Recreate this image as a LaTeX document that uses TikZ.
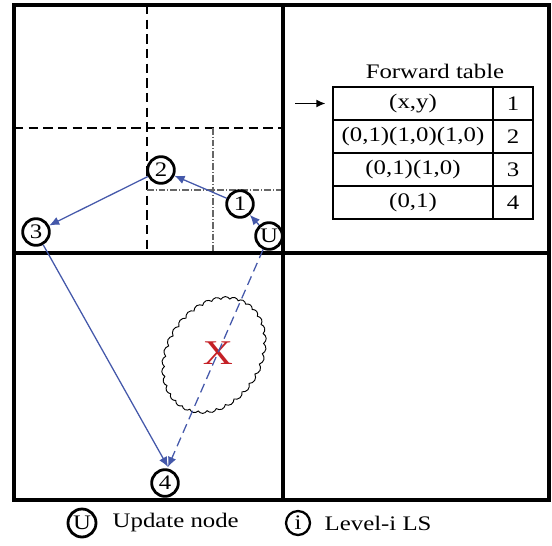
\documentclass[tikz,border=0pt]{standalone}
\usepackage{fontspec}
\setmainfont{Liberation Serif}[FakeStretch=1.2]
\usetikzlibrary{arrows.meta,shapes.symbols}
\definecolor{pathblue}{RGB}{68,88,170}
\definecolor{xred}{RGB}{196,32,38}

\tikzset{
  lsnode/.style={circle, draw, line width=2.1pt, inner sep=0pt, minimum size=20pt, fill=white, font=\fontsize{15.5}{15.5}\selectfont},
  route/.style={draw=pathblue, line width=0.95pt, -{Latex[length=7.5pt,width=6.5pt]}},
  cell/.style={draw, line width=1.1pt, minimum height=24.75pt, inner sep=0pt},
  grid dash/.style={line width=1.3pt, dash pattern=on 7pt off 4pt},
  grid dot/.style={line width=0.8pt, gray!80!black, dash pattern=on 5pt off 1.5pt on 0.8pt off 1.5pt}
}

\begin{document}
\begin{tikzpicture}[x=0.75pt,y=0.75pt,yscale=-1,xscale=1, font=\fontsize{15.5}{16}\selectfont]
	\useasboundingbox (0,0) rectangle (552,545);
	
	%dashed sub-areas
	\draw[grid dash] (147,5) -- (147,253);
	\draw[grid dash] (14,128) -- (283,128);
	\draw[grid dot] (213,128) -- (213,253);
	\draw[grid dot] (147,190) -- (283,190);
	
	%quadrants
	\draw[line width=2.6pt] (283,5) -- (283,500);
	\draw[line width=2.6pt] (14,253) -- (549,253);
	\draw[line width=3.5pt] (14,5) rectangle (549,500);
	
	%obstacle
	\node[cloud, draw, cloud puffs=34, cloud puff arc=120, cloud ignores aspect, minimum width=93pt, minimum height=72pt, rotate=58, line width=0.7pt] (obst) at (214,355) {};
	\node[text=xred, font=\fontsize{26}{26}\selectfont] (xmark) at (218,353) {X};
	
	%level nodes
	\node[lsnode] (nu) at (269,236) {U};
	\node[lsnode] (n1) at (240,204) {1};
	\node[lsnode] (n2) at (161,170) {2};
	\node[lsnode] (n3) at (36,232) {3};
	\node[lsnode] (n4) at (165,483) {4};
	\coordinate (tip4) at (168,467);
	
	\draw[route] (nu) -- (n1);
	\draw[route] (n1) -- (n2);
	\draw[route] (n2) -- (n3);
	\draw[route] (n3) -- (tip4);
	\draw[route, dash pattern=on 7pt off 4pt] (nu) -- (tip4);
	
	%forward table
	\node (ttitle) at (435,71) {Forward table};
	\node[cell, minimum width=120pt] (t1) at (413,103.5) {(x,y)};
	\node[cell, minimum width=30pt] (k1) at (513,103.5) {1};
	\node[cell, minimum width=120pt] (t2) at (413,136.5) {(0,1)(1,0)(1,0)};
	\node[cell, minimum width=30pt] (k2) at (513,136.5) {2};
	\node[cell, minimum width=120pt] (t3) at (413,169.5) {(0,1)(1,0)};
	\node[cell, minimum width=30pt] (k3) at (513,169.5) {3};
	\node[cell, minimum width=120pt] (t4) at (413,202.5) {(0,1)};
	\node[cell, minimum width=30pt] (k4) at (513,202.5) {4};
	\coordinate (ptr) at (295,103.5);
	\draw[line width=1.3pt, -{Latex[length=7pt,width=6pt]}, shorten >=5pt] (ptr) -- (t1.west);
	
	%legend
	\node[lsnode, minimum size=21pt] (lgu) at (82,523) {U};
	\node[anchor=west] (lgutext) at (108,523) {Update node};
	\node[lsnode, minimum size=18pt, line width=1.7pt] (lgi) at (298,523) {i};
	\node[anchor=west] (lgitext) at (320,523) {Level-i LS};
	
\end{tikzpicture}
\end{document}
